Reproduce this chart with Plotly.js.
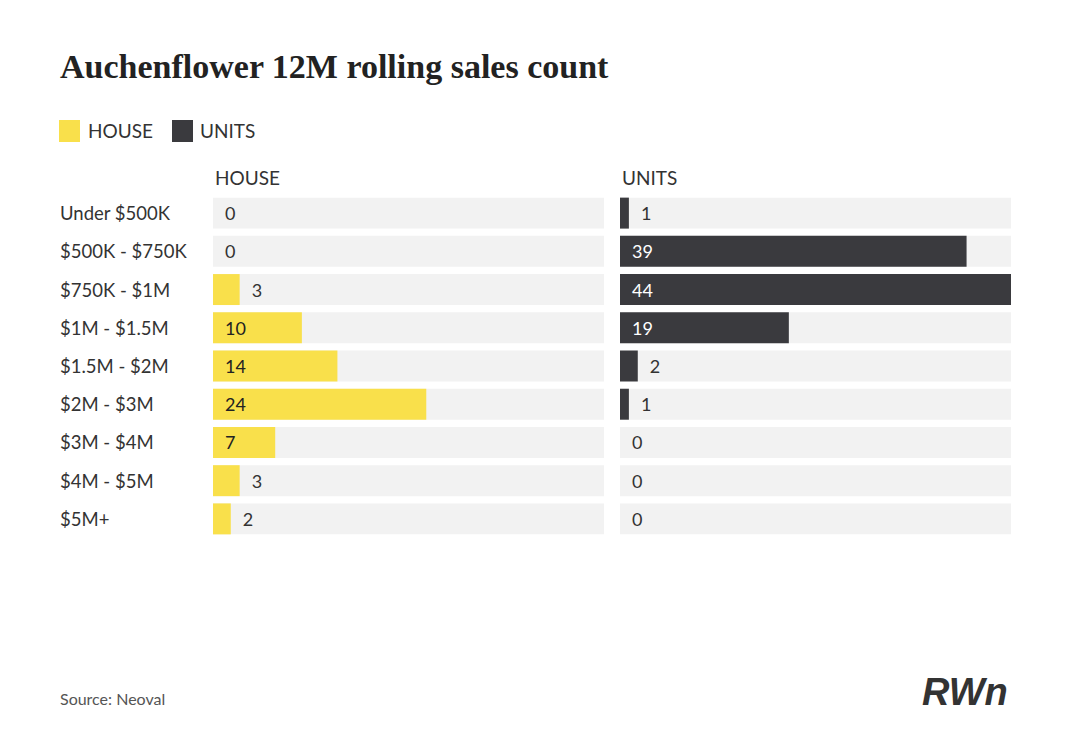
<!DOCTYPE html>
<html>
<head>
<meta charset="utf-8">
<script src="https://cdn.plot.ly/plotly-3.0.1.min.js"></script>
<style>body{margin:0;background:#fff}#chart{width:1082px;height:754px}</style>
</head>
<body>
<div id="chart"></div>
<script>
var bands = ['Under $500K', '$500K - $750K', '$750K - $1M', '$1M - $1.5M', '$1.5M - $2M', '$2M - $3M', '$3M - $4M', '$4M - $5M', '$5M+'];
var house = [0, 0, 3, 10, 14, 24, 7, 3, 2];
var units = [1, 39, 44, 19, 2, 1, 0, 0, 0];
var maxVal = 44;

var W = 1082, H = 754;
function px(x) { return x / W; }
function py(y) { return 1 - y / H; }

function bgTrace(xa, ya) {
    return {
        type: 'bar', orientation: 'h', y: bands, x: bands.map(function () { return maxVal; }),
        xaxis: xa, yaxis: ya, marker: {color: '#f2f2f2'}, hoverinfo: 'skip', showlegend: false
    };
}

function valTrace(vals, color, insideColor, xa, ya) {
    return {
        type: 'bar', orientation: 'h', y: bands, x: vals, xaxis: xa, yaxis: ya,
        marker: {color: color}, showlegend: false,
        text: vals.map(function (v) { return '\u2002' + v; }),
        textposition: vals.map(function (v) { return v >= 5 ? 'inside' : 'outside'; }),
        insidetextanchor: 'start',
        insidetextfont: {color: insideColor, size: 18, family: 'Lato'},
        outsidetextfont: {color: '#333', size: 18, family: 'Lato'},
        cliponaxis: false, constraintext: 'none'
    };
}

var data = [
    bgTrace('x', 'y'), valTrace(house, '#f9e04b', '#222', 'x', 'y'),
    bgTrace('x2', 'y2'), valTrace(units, '#3a3a3e', '#ffffff', 'x2', 'y2')
];

var yd = [py(538), py(194)];
var ax = {range: [0, maxVal], showgrid: false, zeroline: false, showticklabels: false, fixedrange: true};
var ay = {autorange: 'reversed', showticklabels: false, showgrid: false, zeroline: false, domain: yd};

var annotations = [
    {text: '<b>Auchenflower 12M rolling sales count</b>', x: px(58), y: py(66), xanchor: 'left', yanchor: 'middle',
     font: {family: 'Liberation Serif', size: 34, color: '#222'}},
    {text: 'HOUSE', x: px(86), y: py(131), xanchor: 'left', yanchor: 'middle', font: {size: 19, color: '#333'}},
    {text: 'UNITS', x: px(198), y: py(131), xanchor: 'left', yanchor: 'middle', font: {size: 19, color: '#333'}},
    {text: 'HOUSE', x: px(213), y: py(178), xanchor: 'left', yanchor: 'middle', font: {size: 19, color: '#333'}},
    {text: 'UNITS', x: px(620), y: py(178), xanchor: 'left', yanchor: 'middle', font: {size: 19, color: '#333'}},
    {text: 'Source: Neoval', x: px(58), y: py(698), xanchor: 'left', yanchor: 'middle', font: {size: 16, color: '#555'}},
    {text: '<b><i>RWn</i></b>', x: px(1010), y: py(692), xanchor: 'right', yanchor: 'middle',
     font: {family: 'Liberation Sans', size: 38, color: '#333'}}
];
bands.forEach(function (b) {
    annotations.push({text: b, xref: 'paper', yref: 'y', x: px(58), y: b, xanchor: 'left', yanchor: 'middle',
        font: {size: 18.5, color: '#333'}});
});
annotations.forEach(function (a) {
    if (!a.xref) a.xref = 'paper';
    if (!a.yref) a.yref = 'paper';
    a.showarrow = false;
});

var layout = {
    width: W, height: H, margin: {l: 0, r: 0, t: 0, b: 0},
    paper_bgcolor: '#fff', plot_bgcolor: 'rgba(0,0,0,0)',
    font: {family: 'Lato', color: '#333'},
    barmode: 'overlay', bargap: 0.19,
    xaxis: Object.assign({domain: [px(213), px(604)], anchor: 'y'}, ax),
    xaxis2: Object.assign({domain: [px(620), px(1011)], anchor: 'y2'}, ax),
    yaxis: Object.assign({anchor: 'x'}, ay),
    yaxis2: Object.assign({anchor: 'x2'}, ay),
    shapes: [
        {type: 'rect', xref: 'paper', yref: 'paper', x0: px(59), x1: px(80), y0: py(142), y1: py(120), fillcolor: '#f9e04b', line: {width: 0}},
        {type: 'rect', xref: 'paper', yref: 'paper', x0: px(172), x1: px(193), y0: py(142), y1: py(120), fillcolor: '#3a3a3e', line: {width: 0}}
    ],
    annotations: annotations
};

Plotly.newPlot('chart', data, layout, {displayModeBar: false, staticPlot: true});
</script>
</body>
</html>
